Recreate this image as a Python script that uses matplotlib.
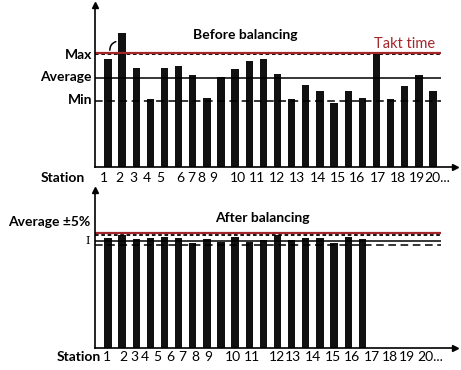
import matplotlib
matplotlib.use('Agg')
import matplotlib.pyplot as plt

# Work content per station (arbitrary time units)
before = [108, 134, 99, 68, 99, 101, 92, 69, 90, 98, 106, 108,
          93, 68, 82, 76, 64, 76, 69, 113, 68, 81, 92, 76]
after = [110, 113, 109, 110, 111, 110, 105, 109, 106, 111, 106, 108,
         113, 108, 110, 110, 105, 111, 109]

takt = 114
before_max = 112.5
before_avg = 89
before_min = 66
after_top = 113
after_avg = 107
after_low = 103

station_labels = ['1', '2', '3', '4', '5', '6', '7', '8', '9', '10', '11', '12',
                  '13', '14', '15', '16', '17', '18', '19', '20...']
top_label_pos = [0.72, 1.78, 2.77, 3.76, 4.68, 6.10, 6.87, 7.58, 8.43, 10.20,
                 11.54, 12.96, 14.38, 15.86, 17.28, 18.62, 20.11, 21.53, 22.87, 24.28]
bot_label_pos = [0.95, 2.06, 2.84, 3.62, 4.47, 5.39, 6.24, 7.16, 8.08, 9.85,
                 11.19, 12.96, 14.09, 15.51, 16.92, 18.27, 19.68, 20.96, 22.16, 23.79]

RED = '#a3262b'
FONT = 'Lato'
FS = 10


def setup(ax, ymax):
    ax.set_xlim(0.08, 25.56)
    ax.set_ylim(0, ymax)
    for s in ['top', 'right']:
        ax.spines[s].set_visible(False)
    for s in ['left', 'bottom']:
        ax.spines[s].set_linewidth(1.2)
    ax.set_xticks([])
    ax.set_yticks([])
    ax.patch.set_alpha(0)
    ax.plot(0, 1, marker='^', color='k', ms=5, transform=ax.transAxes, clip_on=False)
    ax.plot(1, 0, marker='>', color='k', ms=5, transform=ax.transAxes, clip_on=False)


fig = plt.figure(figsize=(4.61, 3.70), dpi=100)

# ---- Before balancing ----
ax1 = fig.add_axes([0.206, 0.5486, 0.781, 0.438])
setup(ax1, 162)
x1 = list(range(1, len(before) + 1))
ax1.bar(x1, before, width=0.52, color='#111111')
ax1.hlines(before_avg, 0.08, 24.57, color='k', lw=1.1)
ax1.hlines(before_min, 0.08, 24.57, color='k', lw=1.1, linestyles=(0, (5, 3)))
ax1.hlines(before_max, 0.08, 24.57, color='k', lw=1.3, linestyles=(0, (2, 1.5)))
ax1.hlines(takt, 0.08, 24.57, color=RED, lw=1.6)
ax1.annotate('', xy=(1.15, 114), xytext=(1.75, 126),
             arrowprops=dict(arrowstyle='-', color='k', lw=1.1,
                             connectionstyle='arc3,rad=0.5'))

ax1.text(10.7, 132, 'Before balancing', ha='center', va='center', fontsize=FS,
         family=FONT, fontweight='bold')
ax1.text(22.0, 123, 'Takt time', ha='center', va='center', fontsize=FS + 0.5,
         family=FONT, color=RED)
ax1.text(-0.13, 112, 'Max', ha='right', va='center', fontsize=FS, family=FONT, fontweight='bold')
ax1.text(-0.13, 90, 'Average', ha='right', va='center', fontsize=FS, family=FONT, fontweight='bold')
ax1.text(-0.13, 67, 'Min', ha='right', va='center', fontsize=FS, family=FONT, fontweight='bold')
ax1.text(-0.63, -11, 'Station', ha='right', va='center', fontsize=FS, family=FONT, fontweight='bold')
for pos, lab in zip(top_label_pos, station_labels):
    ax1.text(pos, -11, lab, ha='center', va='center', fontsize=FS, family=FONT)

# ---- After balancing ----
ax2 = fig.add_axes([0.206, 0.0595, 0.781, 0.427])
setup(ax2, 158)
x2 = list(range(1, len(after) + 1))
ax2.bar(x2, after, width=0.52, color='#111111')
ax2.hlines(after_avg, 0.08, 24.57, color='k', lw=1.1)
ax2.hlines(after_low, 0.08, 24.57, color='k', lw=1.1, linestyles=(0, (5, 3)))
ax2.hlines(after_top, 0.08, 24.57, color='k', lw=1.3, linestyles=(0, (2, 1.5)))
ax2.hlines(takt + 1, 0.08, 24.57, color=RED, lw=1.6)

ax2.text(11.9, 130, 'After balancing', ha='center', va='center', fontsize=FS,
         family=FONT, fontweight='bold')
ax2.text(-0.27, 126, 'Average \u00b15%', ha='right', va='center', fontsize=FS,
         family=FONT, fontweight='bold')
ax2.text(-0.42, 107, 'I', ha='center', va='center', fontsize=8, family='DejaVu Serif')
ax2.text(0.5, -9, 'Station', ha='right', va='center', fontsize=FS, family=FONT, fontweight='bold')
for pos, lab in zip(bot_label_pos, station_labels):
    ax2.text(pos, -9, lab, ha='center', va='center', fontsize=FS, family=FONT)

fig.savefig('out.png', dpi=100)
